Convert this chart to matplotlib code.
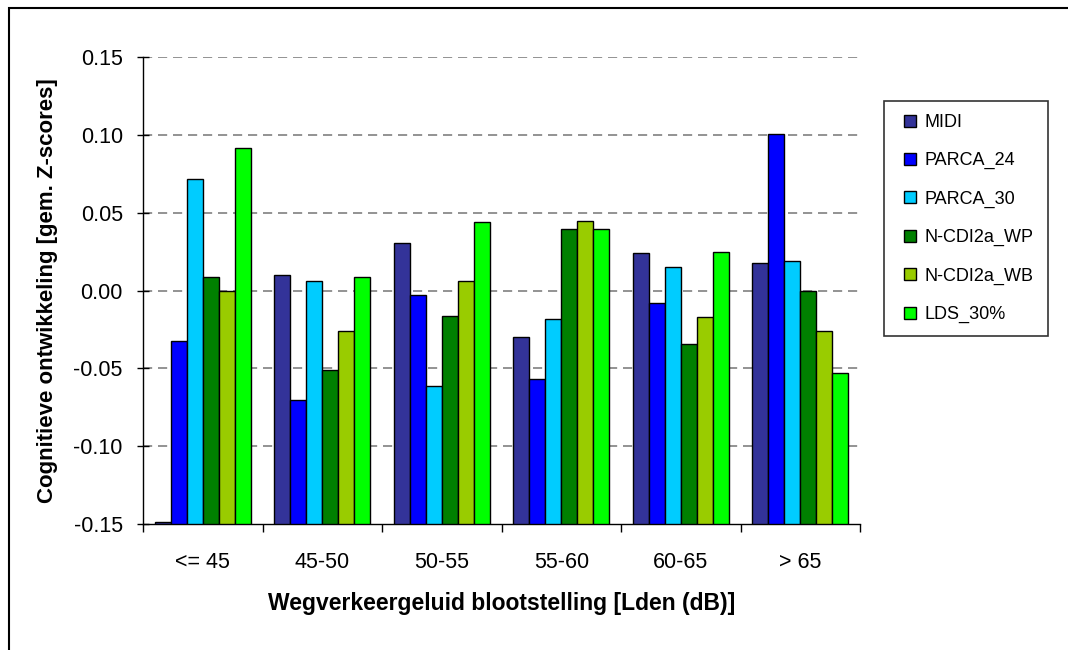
import numpy as np
import matplotlib.pyplot as plt
from matplotlib.lines import Line2D
from matplotlib.patches import Rectangle

plt.rcParams["font.family"] = ["Liberation Sans", "DejaVu Sans"]

# exposure classes (x axis)
categories = ["<= 45", "45-50", "50-55", "55-60", "60-65", "> 65"]

# mean z-scores per study
series_names = ["MIDI", "PARCA_24", "PARCA_30", "N-CDI2a_WP", "N-CDI2a_WB", "LDS_30%"]
midi = [-0.149, 0.010, 0.031, -0.030, 0.024, 0.018]
parca_24 = [-0.032, -0.070, -0.003, -0.057, -0.008, 0.101]
parca_30 = [0.072, 0.006, -0.061, -0.018, 0.015, 0.019]
ncdi_wp = [0.009, -0.051, -0.016, 0.040, -0.034, 0.000]
ncdi_wb = [0.000, -0.026, 0.006, 0.045, -0.017, -0.026]
lds_30 = [0.092, 0.009, 0.044, 0.040, 0.025, -0.053]
series = [midi, parca_24, parca_30, ncdi_wp, ncdi_wb, lds_30]

colors = ["#333399", "#0000FF", "#00CCFF", "#008000", "#99CC00", "#00FF00"]

y_min, y_max = -0.15, 0.15

fig = plt.figure(figsize=(10.68, 6.5), dpi=100)
ax = fig.add_axes([143 / 1068, 1 - 524 / 650, (860 - 143) / 1068, (524 - 57.5) / 650])

n = len(series)
bar_w = 0.8 / n
x = np.arange(len(categories))
for i, vals in enumerate(series):
    vals = np.array(vals)
    # excel-style: bars grow up from the bottom of the axis
    ax.bar(x + 0.1 + bar_w * (i + 0.5), vals - y_min, bottom=y_min, width=bar_w,
           color=colors[i], edgecolor="black", linewidth=1, zorder=3)

ax.set_xlim(0, len(categories))
ax.set_ylim(y_min, y_max)

# y axis
yt = np.arange(-0.15, 0.151, 0.05)
ax.set_yticks(yt)
ax.set_yticklabels(["%.2f" % v for v in yt], fontsize=15.5)
ax.tick_params(axis="y", direction="inout", length=9, width=1, pad=10)
for v in yt[1:]:
    ax.axhline(v, color="#808080", linewidth=1.2, linestyle=(0, (5.5, 3.5)), zorder=1)

# x axis: ticks at group boundaries, labels at group centres
ax.set_xticks(np.arange(len(categories) + 1))
ax.set_xticklabels([])
ax.set_xticks(x + 0.5, minor=True)
ax.set_xticklabels(categories, minor=True, fontsize=15.5)
ax.tick_params(axis="x", which="major", direction="out", length=6, width=1)
ax.tick_params(axis="x", which="minor", length=0, pad=20)

for s in ["top", "right"]:
    ax.spines[s].set_visible(False)
ax.spines["left"].set_linewidth(1)
ax.spines["bottom"].set_linewidth(1)

ax.set_xlabel("Wegverkeergeluid blootstelling [Lden (dB)]", fontsize=16.5, fontweight="bold", labelpad=14)
ax.set_ylabel("Cognitieve ontwikkeling [gem. Z-scores]", fontsize=16, fontweight="bold", labelpad=11)

# legend
handles = [Line2D([0], [0], marker="s", linestyle="none", markersize=8,
                  markerfacecolor=c, markeredgecolor="black", markeredgewidth=1) for c in colors]
leg = fig.legend(handles, series_names, loc="upper left",
                 bbox_to_anchor=(884 / 1068, 1 - 101 / 650, (1048 - 884) / 1068, 0),
                 mode="expand", fontsize=13, frameon=True, fancybox=False,
                 borderaxespad=0, borderpad=0.72, labelspacing=1.18,
                 handlelength=1.4, handletextpad=0.15)
leg.get_frame().set_edgecolor("black")
leg.get_frame().set_linewidth(1.2)

# outer chart border (top and left edges visible)
fig.patches.append(Rectangle((9 / 1068, -0.1), 1.2, 1.1 - 8 / 650, transform=fig.transFigure,
                             fill=False, edgecolor="black", linewidth=1.5))

fig.savefig("out.png", dpi=100)
